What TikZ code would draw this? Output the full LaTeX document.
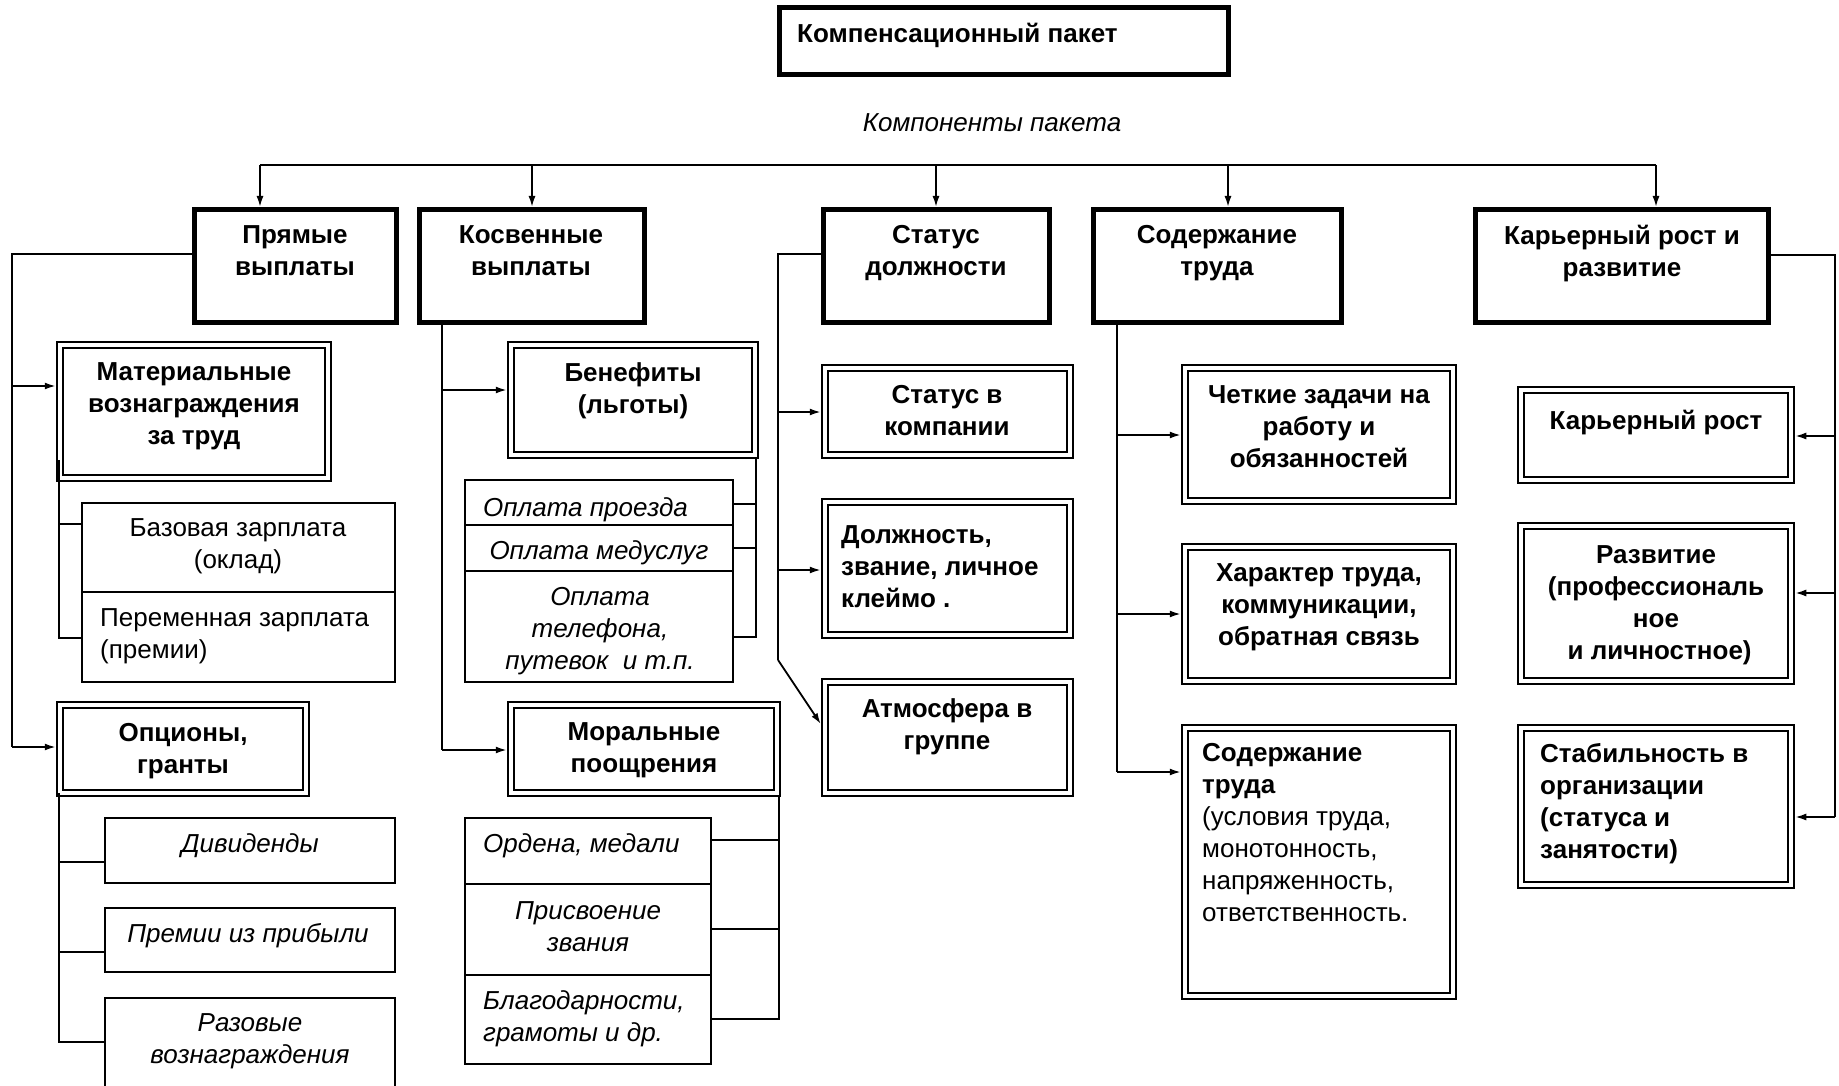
\documentclass[tikz,border=0pt]{standalone}
\usepackage{fontspec}
\setmainfont{Liberation Sans}
\usetikzlibrary{arrows.meta,fit}
\begin{document}
\begin{tikzpicture}[x=1pt,y=-1pt,
  every node/.style={inner sep=0pt},
  thickbox/.style={draw, line width=5pt, outer sep=2.5pt},
  dblbox/.style={draw, line width=2.5pt, double, double distance=3.5pt, outer sep=4.25pt},
  cell/.style={draw, line width=2pt, outer sep=1pt},
  wire/.style={line width=1.8pt},
  arr/.style={wire, -{Latex[length=11pt,width=7pt]}},
  bt/.style={font=\fontsize{26}{32}\selectfont\bfseries, align=center, anchor=north},
  btl/.style={font=\fontsize{26}{32}\selectfont\bfseries, align=left, anchor=north west},
  rt/.style={font=\fontsize{26}{32}\selectfont, align=center, anchor=north},
  rtl/.style={font=\fontsize{26}{32}\selectfont, align=left, anchor=north west},
  it/.style={font=\fontsize{26}{32}\selectfont\itshape, align=center, anchor=north},
  itl/.style={font=\fontsize{26}{32}\selectfont\itshape, align=left, anchor=north west}]
\useasboundingbox (0,0) rectangle (1839,1086);

% ---------- boxes ----------
\node[thickbox, fit={(779.5,7.5) (1228.5,74.5)}] (top) {};
\node[thickbox, fit={(194.5,209.5) (396.5,322.5)}] (pr) {};
\node[thickbox, fit={(419.5,209.5) (644.5,322.5)}] (ks) {};
\node[thickbox, fit={(823.5,209.5) (1049.5,322.5)}] (st) {};
\node[thickbox, fit={(1093.5,209.5) (1341.5,322.5)}] (sd) {};
\node[thickbox, fit={(1475.5,209.5) (1768.5,322.5)}] (kr) {};

\node[dblbox, fit={(60,345) (328,478)}] (mat) {};
\node[dblbox, fit={(60,705) (306,793)}] (opc) {};
\node[dblbox, fit={(511,345) (755,455)}] (ben) {};
\node[dblbox, fit={(511,705) (777,793)}] (mor) {};
\node[dblbox, fit={(825,368) (1070,455)}] (stk) {};
\node[dblbox, fit={(825,502) (1070,635)}] (dol) {};
\node[dblbox, fit={(825,682) (1070,793)}] (atm) {};
\node[dblbox, fit={(1185,368) (1453,501)}] (chz) {};
\node[dblbox, fit={(1185,547) (1453,681)}] (hat) {};
\node[dblbox, fit={(1185,728) (1453,996)}] (sdt) {};
\node[dblbox, fit={(1521,390) (1791,480)}] (krr) {};
\node[dblbox, fit={(1521,526) (1791,681)}] (raz) {};
\node[dblbox, fit={(1521,728) (1791,885)}] (stb) {};

\node[cell, fit={(82,503) (395,592)}] (baz1) {};
\node[cell, fit={(82,592) (395,682)}] (baz2) {};
\node[cell, fit={(105,818) (395,883)}] (div) {};
\node[cell, fit={(105,908) (395,972)}] (prem) {};
\node[cell, fit={(105,998) (395,1100)}] (razv) {};
\node[cell, fit={(465,480) (733,525)}] (op1) {};
\node[cell, fit={(465,525) (733,571)}] (op2) {};
\node[cell, fit={(465,571) (733,682)}] (op3) {};
\node[cell, fit={(465,818) (711,884)}] (ord1) {};
\node[cell, fit={(465,884) (711,975)}] (ord2) {};
\node[cell, fit={(465,975) (711,1064)}] (ord3) {};

% ---------- texts ----------
\node[btl] (t-top) at (797,23) {Компенсационный пакет};
\node[it] (t-comp) at (992,113) {Компоненты пакета};
\node[bt] (t-pr) at (295,225) {Прямые\\выплаты};
\node[bt] (t-ks) at (531,225) {Косвенные\\выплаты};
\node[bt] (t-st) at (936,225) {Статус\\должности};
\node[bt] (t-sd) at (1217,225) {Содержание\\труда};
\node[bt] (t-kr) at (1622,225) {Карьерный рост и\\развитие};

\node[bt] (t-mat) at (194,362) {Материальные\\вознаграждения\\за труд};
\node[rt] (t-baz1) at (238,518) {Базовая зарплата\\(оклад)};
\node[rtl] (t-baz2) at (100,608) {Переменная зарплата\\(премии)};
\node[bt] (t-opc) at (183,723) {Опционы,\\гранты};
\node[it] (t-div) at (250,833) {Дивиденды};
\node[it] (t-prem) at (248,923) {Премии из прибыли};
\node[it] (t-razv) at (250,1013) {Разовые\\вознаграждения};

\node[bt] (t-ben) at (633,362) {Бенефиты\\(льготы)};
\node[itl] (t-op1) at (483,497) {Оплата проезда};
\node[it] (t-op2) at (599,540) {Оплата медуслуг};
\node[it] (t-op3) at (600,587) {Оплата\\телефона,\\путевок\ \ и т.п.};
\node[bt] (t-mor) at (644,722) {Моральные\\поощрения};
\node[itl] (t-ord1) at (483,833) {Ордена, медали};
\node[it] (t-ord2) at (588,901) {Присвоение\\звания};
\node[itl] (t-ord3) at (483,990) {Благодарности,\\грамоты и др.};

\node[bt] (t-stk) at (947,385) {Статус в\\компании};
\node[btl] (t-dol) at (841,525) {Должность,\\звание, личное\\клеймо .};
\node[bt] (t-atm) at (947,698) {Атмосфера в\\группе};

\node[bt] (t-chz) at (1319,385) {Четкие задачи на\\работу и\\обязанностей};
\node[bt] (t-hat) at (1319,563) {Характер труда,\\коммуникации,\\обратная связь};
\node[rtl] (t-sdt) at (1202,743) {\textbf{Содержание}\\\textbf{труда}\\(условия труда,\\монотонность,\\напряженность,\\ответственность.};

\node[bt] (t-krr) at (1656,410) {Карьерный рост};
\node[bt] (t-raz) at (1656,545) {Развитие\\(профессиональ\\ное\\\ и личностное)};
\node[btl] (t-stb) at (1540,743) {Стабильность в\\организации\\(статуса и\\занятости)};

% ---------- top bus ----------
\coordinate (a1) at (260,165);
\coordinate (a2) at (532,165);
\coordinate (a3) at (936,165);
\coordinate (a4) at (1228,165);
\coordinate (a5) at (1656,165);
\draw[wire] (a1) -- (a5);
\draw[arr] (a1) -- (a1 |- pr.north);
\draw[arr] (a2) -- (a2 |- ks.north);
\draw[arr] (a3) -- (a3 |- st.north);
\draw[arr] (a4) -- (a4 |- sd.north);
\draw[arr] (a5) -- (a5 |- kr.north);

% ---------- direct payments ----------
\coordinate (L0) at (12,254);
\coordinate (L1) at (12,386);
\coordinate (L2) at (12,747);
\draw[wire] (L0 -| pr.west) -- (L0) -- (L2);
\draw[arr] (L1) -- (L1 -| mat.west);
\draw[arr] (L2) -- (L2 -| opc.west);

\coordinate (m0) at (59,460);
\coordinate (m1) at (59,524);
\coordinate (m2) at (59,638);
\draw[wire] (m0) -- (m2) -- (m2 -| baz2.west);
\draw[wire] (m1) -- (m1 -| baz1.west);

\coordinate (o0) at (59,793);
\coordinate (o1) at (59,862);
\coordinate (o2) at (59,952);
\coordinate (o3) at (59,1042);
\draw[wire] (o0) -- (o3) -- (o3 -| razv.west);
\draw[wire] (o1) -- (o1 -| div.west);
\draw[wire] (o2) -- (o2 -| prem.west);

% ---------- indirect payments ----------
\coordinate (k1) at (442,390);
\coordinate (k2) at (442,750);
\draw[wire] (ks.south -| k1) -- (k2);
\draw[arr] (k1) -- (k1 -| ben.west);
\draw[arr] (k2) -- (k2 -| mor.west);

\coordinate (b0) at (756,459);
\coordinate (b1) at (756,504);
\coordinate (b2) at (756,548);
\coordinate (b3) at (756,637);
\draw[wire] (b0) -- (b3) -- (b3 -| op3.east);
\draw[wire] (b1) -- (b1 -| op1.east);
\draw[wire] (b2) -- (b2 -| op2.east);

\coordinate (r0) at (779,797);
\coordinate (r1) at (779,840);
\coordinate (r2) at (779,929);
\coordinate (r3) at (779,1019);
\draw[wire] (r0) -- (r3) -- (r3 -| ord3.east);
\draw[wire] (r1) -- (r1 -| ord1.east);
\draw[wire] (r2) -- (r2 -| ord2.east);

% ---------- job status ----------
\coordinate (s0) at (778,254);
\coordinate (s1) at (778,412);
\coordinate (s2) at (778,570);
\coordinate (s3) at (778,660);
\coordinate (s4) at (0,724);
\draw[wire] (s0 -| st.west) -- (s0) -- (s3);
\draw[arr] (s1) -- (s1 -| stk.west);
\draw[arr] (s2) -- (s2 -| dol.west);
\draw[arr] (s3) -- (atm.west |- s4);

% ---------- work content ----------
\coordinate (c1) at (1117,435);
\coordinate (c2) at (1117,614);
\coordinate (c3) at (1117,772);
\draw[wire] (sd.south -| c1) -- (c3);
\draw[arr] (c1) -- (c1 -| chz.west);
\draw[arr] (c2) -- (c2 -| hat.west);
\draw[arr] (c3) -- (c3 -| sdt.west);

% ---------- career ----------
\coordinate (q0) at (1835,255);
\coordinate (q1) at (1835,436);
\coordinate (q2) at (1835,593);
\coordinate (q3) at (1835,817);
\draw[wire] (q0 -| kr.east) -- (q0) -- (q3);
\draw[arr] (q1) -- (q1 -| krr.east);
\draw[arr] (q2) -- (q2 -| raz.east);
\draw[arr] (q3) -- (q3 -| stb.east);
\end{tikzpicture}
\end{document}
